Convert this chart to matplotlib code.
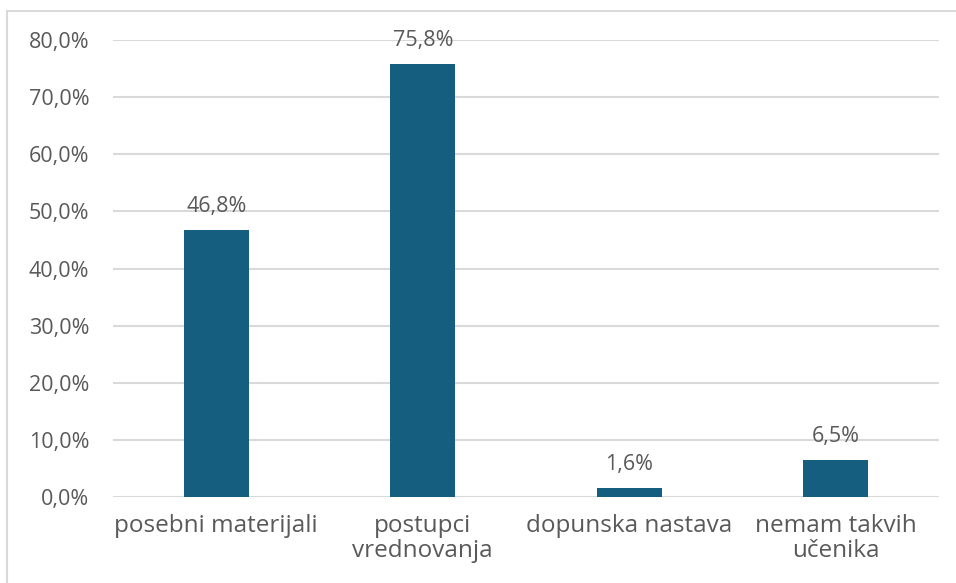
import matplotlib.pyplot as plt
from matplotlib.patches import Rectangle
from matplotlib.ticker import FuncFormatter

categories = ["posebni materijali", "postupci\nvrednovanja", "dopunska nastava", "nemam takvih\nučenika"]
values = [46.8, 75.8, 1.6, 6.5]
yticks = [0, 10, 20, 30, 40, 50, 60, 70, 80]

BAR_COLOR = "#165E80"
TEXT_COLOR = "#595959"
GRID_COLOR = "#D9D9D9"

plt.rcParams["font.family"] = ["Open Sans", "DejaVu Sans"]

fig = plt.figure(figsize=(9.56, 5.83), dpi=100)
ax = fig.add_axes([113 / 956, 1 - 497 / 583, 826 / 956, (497 - 40) / 583])

x = range(len(categories))
bars = ax.bar(x, values, width=0.315, color=BAR_COLOR, zorder=3)

for b, v in zip(bars, values):
    ax.annotate(f"{v:.1f}%".replace(".", ","),
                (b.get_x() + b.get_width() / 2, v),
                xytext=(0, 9), textcoords="offset points",
                ha="center", va="bottom", fontsize=15.5, color=TEXT_COLOR)

ax.set_xlim(-0.5, len(categories) - 0.5)
ax.set_ylim(0, 80)
ax.set_yticks(yticks)
ax.yaxis.set_major_formatter(FuncFormatter(lambda v, p: f"{v:.1f}%".replace(".", ",")))
ax.set_xticks(list(x))
ax.set_xticklabels(categories, fontsize=17.5, linespacing=1.1)
ax.tick_params(axis="both", length=0, colors=TEXT_COLOR)
ax.tick_params(axis="y", pad=17, labelsize=15.5)
ax.tick_params(axis="x", pad=12)
ax.grid(axis="y", color=GRID_COLOR, linewidth=1.5, zorder=0)
for s in ax.spines.values():
    s.set_visible(False)

# outer chart border (cut off at right and bottom in the screenshot)
fig.patches.append(Rectangle((7 / 956, -0.05), 1.1, 1 - 11 / 583 + 0.05,
                             transform=fig.transFigure, fill=False,
                             edgecolor=GRID_COLOR, linewidth=1.5))

fig.savefig("out.png", dpi=100)
